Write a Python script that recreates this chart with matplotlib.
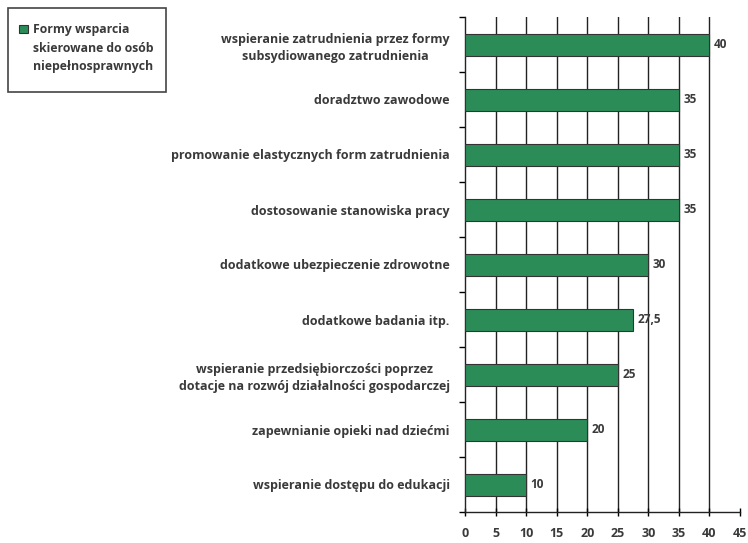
import numpy as np
import matplotlib.pyplot as plt
from matplotlib.patches import Rectangle

plt.rcParams['font.family'] = ['Open Sans', 'DejaVu Sans']
plt.rcParams['font.weight'] = 'bold'

# forms of support, top to bottom
categories = [
    'wspieranie zatrudnienia przez formy\nsubsydiowanego zatrudnienia',
    'doradztwo zawodowe',
    'promowanie elastycznych form zatrudnienia',
    'dostosowanie stanowiska pracy',
    'dodatkowe ubezpieczenie zdrowotne',
    'dodatkowe badania itp.',
    'wspieranie przedsiębiorczości poprzez\ndotacje na rozwój działalności gospodarczej',
    'zapewnianie opieki nad dziećmi',
    'wspieranie dostępu do edukacji',
]
values = [40, 35, 35, 35, 30, 27.5, 25, 20, 10]
value_labels = ['40', '35', '35', '35', '30', '27,5', '25', '20', '10']
x_ticks = [0, 5, 10, 15, 20, 25, 30, 35, 40, 45]
legend_lines = ['Formy wsparcia', 'skierowane do osób', 'niepełnosprawnych']

bar_color = '#2b8c57'
text_color = '#3a3a3a'
W, H = 748, 543

fig = plt.figure(figsize=(7.48, 5.43), dpi=100)
ax = fig.add_axes([465 / W, 1 - 512 / H, 275 / W, 495 / H])

y = np.arange(len(categories))
ax.barh(y, values, height=0.4, color=bar_color, edgecolor='#333333', linewidth=0.8, zorder=3)

for yi, v, lab in zip(y, values, value_labels):
    ax.text(v + 0.7, yi, lab, va='center', ha='left', fontsize=8.5, color=text_color)

ax.set_xlim(0, 45)
ax.set_ylim(len(categories) - 0.5, -0.5)
ax.set_xticks(x_ticks)
ax.set_xticklabels([str(t) for t in x_ticks], fontsize=9, color=text_color)
ax.tick_params(axis='x', direction='inout', length=6, width=1, pad=8)

# category labels sit between boundary ticks
ax.set_yticks(y)
ax.set_yticklabels(categories, fontsize=9, color=text_color)
for lbl in ax.get_yticklabels():
    lbl.set_multialignment('center')
    lbl.set_linespacing(1.4)
ax.tick_params(axis='y', which='major', length=0, pad=11)
ax.set_yticks(np.arange(-0.5, len(categories), 1), minor=True)
ax.tick_params(axis='y', which='minor', length=4, width=1, direction='out')

for t in x_ticks[1:-1]:
    ax.axvline(t, color='#222222', linewidth=1, zorder=1)

for side in ['top', 'right']:
    ax.spines[side].set_visible(False)
for side in ['left', 'bottom']:
    ax.spines[side].set_color('#222222')
    ax.spines[side].set_linewidth(1)

# legend box drawn by hand so the swatch sits on the first line
fig.patches.append(Rectangle((8 / W, 1 - 92 / H), 158 / W, 84 / H, transform=fig.transFigure,
                             facecolor='white', edgecolor='#444444', linewidth=1.2))
fig.patches.append(Rectangle((19 / W, 1 - 33 / H), 9 / W, 8 / H, transform=fig.transFigure,
                             facecolor=bar_color, edgecolor='#333333', linewidth=0.8))
for i, line in enumerate(legend_lines):
    fig.text(33 / W, 1 - (29.5 + 18.5 * i) / H, line, fontsize=8.8, color=text_color,
             ha='left', va='center')

fig.savefig('out.png', dpi=100)
